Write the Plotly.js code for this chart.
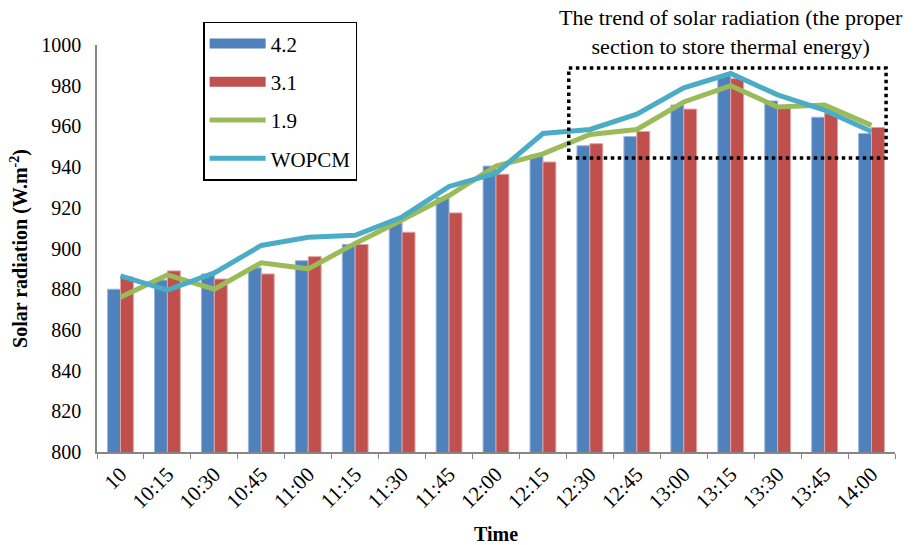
<!DOCTYPE html>
<html>
<head>
<meta charset="utf-8">
<script src="https://cdn.plot.ly/plotly-3.0.1.min.js"></script>
<style>html,body{margin:0;padding:0;background:#fff;}#chart{width:921px;height:545px;}</style>
</head>
<body>
<div id="chart"></div>
<script>
var times = ["10","10:15","10:30","10:45","11:00","11:15","11:30","11:45","12:00","12:15","12:30","12:45","13:00","13:15","13:30","13:45","14:00"];
var s42 = [880,884.5,887.5,890.5,894,902,912.5,925,940.5,946,950.5,955,970.5,985,972.5,964.5,956.5];
var s31 = [886,889,885,887.5,896,902,908,917.5,936.5,942.5,951.5,957.5,968.5,983.5,969,966.5,959.5];
var s19 = [876,887,880,893,890,902.5,914,926,940.5,946.5,956,958.5,972,980,969.5,970.5,960.5];
var wopcm = [886.5,879.5,888,901.5,905.5,906.5,915.5,930.5,937,956.5,958.5,966,979,986,975.5,968,957.5];

var font = "Liberation Serif, Times New Roman, serif";
var traces = [
  {type:"bar", name:"4.2", x:times, y:s42, showlegend:false,
   marker:{color:"#4F81BD", line:{color:"#9DB7DA", width:1}}},
  {type:"bar", name:"3.1", x:times, y:s31, showlegend:false,
   marker:{color:"#C0504D", line:{color:"#E0A3A1", width:1}}},
  {type:"scatter", mode:"lines", name:"1.9", x:times, y:s19, showlegend:false,
   line:{color:"#9BBB59", width:5}},
  {type:"scatter", mode:"lines", name:"WOPCM", x:times, y:wopcm, showlegend:false,
   line:{color:"#4BACC6", width:5}},
  // legend entries
  {type:"scatter", mode:"lines", name:"4.2", x:[null], y:[null], legendgroup:"a",
   line:{color:"#4F81BD", width:10}},
  {type:"scatter", mode:"lines", name:"3.1", x:[null], y:[null], legendgroup:"b",
   line:{color:"#C0504D", width:10}},
  {type:"scatter", mode:"lines", name:"1.9", x:[null], y:[null], legendgroup:"c",
   line:{color:"#9BBB59", width:5}},
  {type:"scatter", mode:"lines", name:"WOPCM", x:[null], y:[null], legendgroup:"d",
   line:{color:"#4BACC6", width:5}}
];
var layout = {
  width:921, height:545,
  margin:{l:97, r:26, t:45, b:93},
  paper_bgcolor:"#fff", plot_bgcolor:"#fff",
  font:{family:font, size:20, color:"#000"},
  barmode:"group", bargap:0.45, bargroupgap:0,
  showlegend:true,
  legend:{x:0.133, y:1.057, xanchor:"left", yanchor:"top",
    bordercolor:"#000", borderwidth:1.5, bgcolor:"#fff",
    font:{family:font, size:21, color:"#000"},
    traceorder:"grouped", tracegroupgap:8, itemwidth:56},
  xaxis:{type:"category", showline:true, linecolor:"#868686", linewidth:1.5,
    ticks:"outside", tickson:"boundaries", ticklen:5, tickcolor:"#868686",
    tickangle:-45, tickfont:{family:font, size:21}, showgrid:false, zeroline:false,
    title:{text:"<b>Time</b>", font:{family:font, size:20}, standoff:16}},
  yaxis:{range:[800,1000], dtick:20, showline:true, linecolor:"#868686", linewidth:1.5,
    ticks:"", showgrid:false, zeroline:false, tickfont:{family:font, size:20},
    ticklabelstandoff:10,
    title:{text:"<b>Solar radiation (W.m<sup>-2</sup>)</b>", font:{family:font, size:20}, standoff:8}},
  shapes:[{type:"rect", xref:"x", yref:"y", x0:9.55, x1:16.31, y0:944.5, y1:988.7,
    line:{color:"#000", width:3.5, dash:"dot"}}],
  annotations:[{xref:"paper", yref:"paper", x:0.794, y:1.102, xanchor:"center", yanchor:"top",
    text:"The trend of solar radiation (the proper<br>section to store thermal energy)",
    showarrow:false, align:"center", font:{family:font, size:22, color:"#000"}}]
};
Plotly.newPlot("chart", traces, layout, {displayModeBar:false});
</script>
</body>
</html>
